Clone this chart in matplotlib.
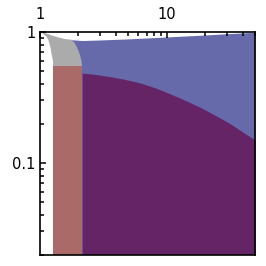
import matplotlib
matplotlib.use("Agg")
import matplotlib.pyplot as plt
from matplotlib.ticker import NullFormatter

# upper envelope (grey cap then blue band)
top_x = [1.0, 1.09, 1.229, 1.39, 1.571, 1.772, 2.154, 2.994, 4.727, 7.46, 11.79, 18.61, 29.4, 50.0]
top_y = [1.0, 0.983, 0.944, 0.911, 0.884, 0.873, 0.861, 0.869, 0.884, 0.903, 0.924, 0.945, 0.969, 0.995]

# grey cap: left edge and right edge (top to bottom)
grey_left_x = [1.0, 1.06, 1.122, 1.165, 1.194, 1.215, 1.229, 1.25, 1.268, 1.268]
grey_left_y = [1.0, 0.965, 0.927, 0.87, 0.800, 0.745, 0.691, 0.64, 0.598, 0.550]
grey_right_x = [1.772, 1.87, 1.94, 2.01, 2.066, 2.128, 2.15]
grey_right_y = [0.873, 0.83, 0.778, 0.72, 0.671, 0.598, 0.550]

# brown band
band_x = [1.268, 2.154]
band_top = 0.55

# purple region upper edge
purple_x = [2.154, 2.733, 3.594, 4.727, 6.218, 8.177, 10.76, 14.15, 18.61, 24.48, 32.2, 42.36, 50.0]
purple_y = [0.486, 0.474, 0.456, 0.434, 0.408, 0.374, 0.336, 0.300, 0.265, 0.230, 0.198, 0.166, 0.150]

y_min = 0.02
x_lim = (1, 50)

fig = plt.figure(figsize=(2.66, 2.66), dpi=100)
ax = fig.add_axes([40 / 266, 11.5 / 266, 215 / 266, 222.5 / 266])
ax.set_xscale("log")
ax.set_yscale("log")

# blue band, covered later by the other regions
bx = [x for x in top_x if x >= 1.772]
by = [y for x, y in zip(top_x, top_y) if x >= 1.772]
ax.fill_between(bx, y_min, by, color="#6669aa", lw=0, zorder=1)

# grey cap
cap_top = [(x, y) for x, y in zip(top_x, top_y) if x <= 1.772]
poly = cap_top + list(zip(grey_right_x, grey_right_y)) + list(zip(grey_left_x, grey_left_y))[::-1]
ax.fill([p[0] for p in poly], [p[1] for p in poly], color="#ababab", lw=0, zorder=2)

ax.fill_between(band_x, y_min, band_top, color="#a96a68", lw=0, zorder=2)
ax.fill_between(purple_x, y_min, purple_y, color="#652466", lw=0, zorder=3)

ax.set_xlim(*x_lim)
ax.set_ylim(y_min, 1)

ax.xaxis.tick_top()
ax.yaxis.tick_left()
ax.set_xticks([1, 10], labels=["1", "10"])
ax.set_yticks([0.1, 1], labels=["0.1", "1"])
ax.xaxis.set_minor_formatter(NullFormatter())
ax.yaxis.set_minor_formatter(NullFormatter())
ax.tick_params(which="both", direction="in", width=1.1, labelsize=10.5)
ax.tick_params(which="major", length=4.5)
ax.tick_params(which="minor", length=3)
ax.tick_params(axis="x", pad=7)
ax.tick_params(axis="y", pad=3)
for s in ax.spines.values():
    s.set_linewidth(1.2)
    s.set_zorder(5)

fig.savefig("out.png", dpi=100)
